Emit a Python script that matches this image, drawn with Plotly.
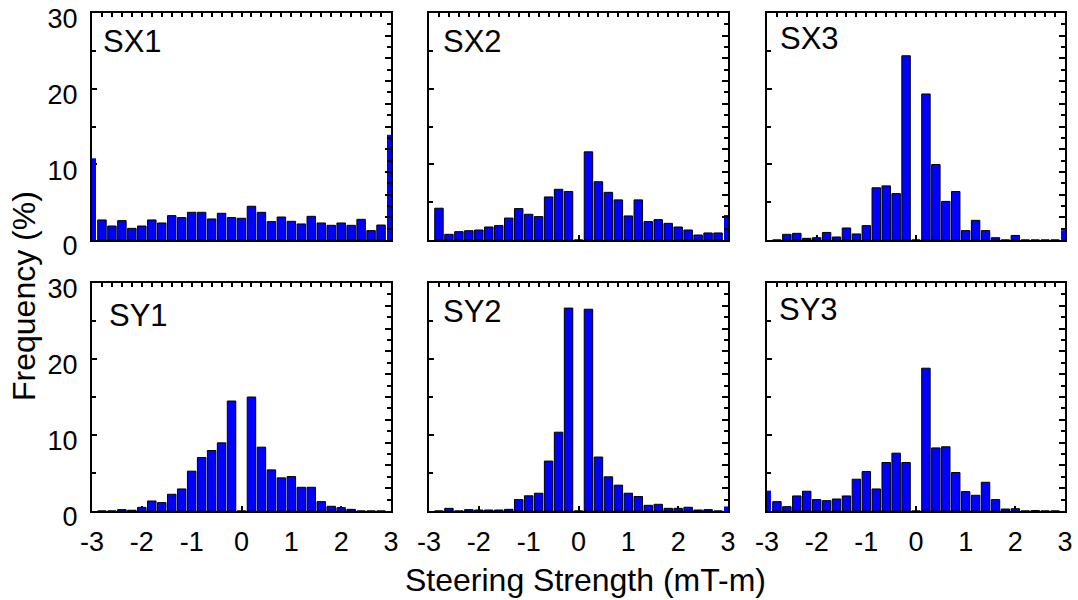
import plotly.graph_objects as go

# ---------------- data ----------------
bin_centers = [-2.8, -2.6, -2.4, -2.2, -2.0, -1.8, -1.6, -1.4, -1.2, -1.0,
               -0.8, -0.6, -0.4, -0.2, 0.0, 0.2, 0.4, 0.6, 0.8, 1.0,
               1.2, 1.4, 1.6, 1.8, 2.0, 2.2, 2.4, 2.6, 2.8]
edge_centers = [-3.0, 3.0]

panel_names = ["SX1", "SX2", "SX3", "SY1", "SY2", "SY3"]

sx1 = [2.65, 1.85, 2.56, 1.54, 1.85, 2.65, 2.25, 3.22, 2.96, 3.66,
       3.66, 2.78, 3.53, 2.96, 2.87, 4.46, 3.66, 2.43, 3.04, 2.47,
       2.12, 3.13, 2.25, 1.94, 2.25, 1.94, 2.73, 1.24, 1.98]
sx1_edges = [10.8, 13.9]

sx2 = [4.2, 0.75, 1.1, 1.23, 1.32, 1.72, 1.9, 2.9, 4.15, 3.4,
       3.09, 5.69, 6.7, 6.4, 0.0, 11.65, 7.7, 6.3, 5.3, 3.18,
       5.3, 2.43, 2.69, 2.2, 1.72, 1.32, 0.66, 0.93, 0.93]
sx2_edges = [0.0, 3.3]

sx3 = [0.0, 0.75, 0.88, 0.22, 0.3, 1.0, 0.4, 1.59, 0.8, 1.9,
       6.9, 7.15, 6.13, 24.35, 0.0, 19.3, 9.97, 5.1, 6.4, 1.24,
       2.6, 1.24, 0.3, 0.0, 0.6, 0.0, 0.0, 0.0, 0.0]
sx3_edges = [0.0, 1.3]

sy1 = [0.0, 0.0, 0.18, 0.1, 0.48, 1.32, 1.1, 2.2, 2.9, 5.24,
       7.04, 7.96, 8.97, 14.47, 0.0, 15.0, 8.4, 5.41, 4.36, 4.53,
       3.12, 3.12, 1.23, 0.62, 0.44, 0.22, 0.0, 0.0, 0.0]
sy1_edges = [0.0, 0.0]

sy2 = [0.0, 0.35, 0.0, 0.18, 0.13, 0.13, 0.13, 0.22, 1.5, 2.0,
       2.34, 6.57, 10.37, 26.7, 0.0, 26.55, 7.1, 4.5, 3.4, 2.34,
       1.9, 0.75, 0.88, 0.35, 0.35, 0.49, 0.13, 0.18, 0.0]
sy2_edges = [0.0, 0.6]

sy3 = [1.23, 0.57, 1.98, 2.6, 1.5, 1.36, 1.58, 1.98, 4.18, 5.19,
       2.9, 6.38, 7.61, 6.38, 0.0, 18.79, 8.3, 8.45, 5.06, 2.55,
       2.07, 3.78, 1.5, 0.26, 0.3, 0.0, 0.05, 0.0, 0.0]
sy3_edges = [2.68, 0.0]

series = [sx1, sx2, sx3, sy1, sy2, sy3]
edges = [sx1_edges, sx2_edges, sx3_edges, sy1_edges, sy2_edges, sy3_edges]

x_tickvals = [-3, -2, -1, 0, 1, 2, 3]
x_ticktext = ["-3", "-2", "-1", "0", "1", "2", "3"]
y_tickvals = [0, 10, 20, 30]
y_ticktext = ["0", "10", "20", "30"]

# ---------------- layout geometry ----------------
W, H = 1078, 600
col_px = [(92, 391), (429, 728), (767, 1065)]
row_px = [(13, 240), (283, 511)]
label_px = [(101, 41), (441, 41), (778, 38), (107, 316), (441, 311), (777, 309)]

FONT = "Arial, 'Liberation Sans', Helvetica, sans-serif"
BLUE = "#0000ff"

fig = go.Figure()
layout = dict(
    width=W, height=H,
    margin=dict(l=0, r=0, t=0, b=0, autoexpand=False),
    paper_bgcolor="white", plot_bgcolor="white",
    showlegend=False, barmode="overlay",
    font=dict(family=FONT, color="black"),
)

for i in range(6):
    r, c = divmod(i, 3)
    n = i + 1
    xs = "" if n == 1 else str(n)
    tn = str(n + 6)
    xd = [col_px[c][0] / W, col_px[c][1] / W]
    yd = [1 - row_px[r][1] / H, 1 - row_px[r][0] / H]

    fig.add_trace(go.Bar(
        x=bin_centers, y=series[i], width=0.17,
        marker=dict(color=BLUE, line=dict(color="black", width=1)),
        xaxis="x" + xs, yaxis="y" + xs, hoverinfo="x+y"))
    fig.add_trace(go.Bar(
        x=edge_centers, y=edges[i], width=0.16,
        marker=dict(color=BLUE, line=dict(width=0)),
        xaxis="x" + xs, yaxis="y" + xs, hoverinfo="x+y"))
    # empty helper traces so the decorative top / right tick axes get drawn
    fig.add_trace(go.Scatter(x=[], y=[], mode="markers",
                             xaxis="x" + tn, yaxis="y" + xs, hoverinfo="skip"))
    fig.add_trace(go.Scatter(x=[], y=[], mode="markers",
                             xaxis="x" + xs, yaxis="y" + tn, hoverinfo="skip"))

    layout["xaxis" + xs] = dict(
        domain=xd, anchor="y" + xs, range=[-3, 3],
        showline=True, linecolor="black", linewidth=2, mirror=True,
        ticks="inside", tickvals=x_tickvals, ticktext=x_ticktext,
        ticklen=5, tickwidth=1.5, tickcolor="black",
        showticklabels=(r == 1),
        tickfont=dict(size=27, family=FONT, color="black"),
        ticklabelstandoff=6, ticklabeloverflow="allow",
        showgrid=False, zeroline=False, layer="below traces",
        fixedrange=True, automargin=False)
    layout["yaxis" + xs] = dict(
        domain=yd, anchor="x" + xs, range=[0, 30],
        showline=True, linecolor="black", linewidth=2, mirror=True,
        ticks="inside", tickvals=y_tickvals, ticktext=y_ticktext,
        ticklen=5, tickwidth=1.5, tickcolor="black",
        minor=dict(tickvals=[5, 15, 25], ticks="inside", ticklen=4,
                   tickwidth=1.5, tickcolor="black", showgrid=False),
        showticklabels=(c == 0),
        tickfont=dict(size=27, family=FONT, color="black"),
        ticklabelstandoff=7, ticklabelshift=6, ticklabeloverflow="allow",
        showgrid=False, zeroline=False, layer="below traces",
        fixedrange=True, automargin=False)

    layout["xaxis" + tn] = dict(
        overlaying="x" + xs, anchor="y" + xs, side="top", range=[-3, 3],
        ticks="inside", tick0=0, dtick=0.2, ticklen=4, tickwidth=1.5,
        tickcolor="black", showticklabels=False, showline=False,
        showgrid=False, zeroline=False, fixedrange=True, automargin=False)
    layout["yaxis" + tn] = dict(
        overlaying="y" + xs, anchor="x" + xs, side="right", range=[0, 30],
        ticks="inside", tick0=0, dtick=3, ticklen=6, tickwidth=1.5,
        tickcolor="black",
        minor=dict(tick0=1.5, dtick=3, ticks="inside", ticklen=4,
                   tickwidth=1.5, tickcolor="black", showgrid=False),
        showticklabels=False, showline=False,
        showgrid=False, zeroline=False, fixedrange=True, automargin=False)

annotations = []
for i, name in enumerate(panel_names):
    lx, ly = label_px[i]
    annotations.append(dict(
        text=name, x=lx / W, y=1 - ly / H, xref="paper", yref="paper",
        xanchor="left", yanchor="middle", showarrow=False,
        font=dict(size=31, family=FONT, color="black")))

annotations.append(dict(
    text="Frequency (%)", x=24 / W, y=1 - 296 / H, xref="paper", yref="paper",
    xanchor="center", yanchor="middle", textangle=-90, showarrow=False,
    font=dict(size=32, family=FONT, color="black")))
annotations.append(dict(
    text="Steering Strength (mT-m)", x=585 / W, y=1 - 580 / H,
    xref="paper", yref="paper", xanchor="center", yanchor="middle",
    showarrow=False, font=dict(size=32, family=FONT, color="black")))
layout["annotations"] = annotations

fig.update_layout(**layout)
fig.write_html("out.html")
